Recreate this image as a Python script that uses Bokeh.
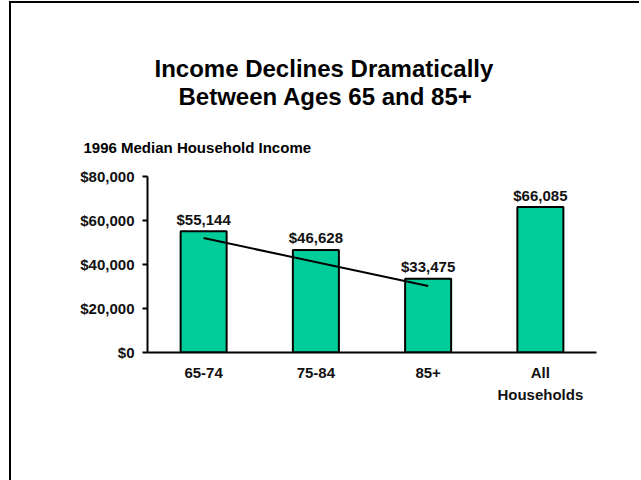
from bokeh.plotting import figure
from bokeh.models import (FactorRange, Range1d, NumeralTickFormatter, FixedTicker,
                          Title, ColumnDataSource)
from bokeh.core.properties import value
from bokeh.embed import file_html
from bokeh.resources import INLINE

# ---- data ----
categories = ["65-74", "75-84", "85+", "All\nHouseholds"]
incomes = [55144, 46628, 33475, 66085]
value_labels = ["$55,144", "$46,628", "$33,475", "$66,085"]
trend_x = ["65-74", "85+"]
trend_y = [52000, 30200]
y_ticks = [0, 20000, 40000, 60000, 80000]

title_lines = ["Income Declines Dramatically", "Between Ages 65 and 85+"]
subtitle = "1996 Median Household Income"

FONT = "Liberation Sans"
BAR_COLOR = "#00CC99"

W, H = 628, 477
FL, FR = 136, 585      # frame left/right in canvas px
FT, FB = 173, 349      # frame top/bottom in canvas px

p = figure(width=W, height=H, output_backend="svg", toolbar_location=None,
           x_range=FactorRange(*categories, range_padding=0),
           y_range=Range1d(0, 80000), title=None,
           min_border_left=FL, min_border_right=W - FR,
           min_border_top=FT, min_border_bottom=H - FB)
p.frame_width = FR - FL
p.frame_height = FB - FT
p.outline_line_color = None
p.background_fill_color = "white"
p.border_fill_color = "white"
p.xgrid.grid_line_color = None
p.ygrid.grid_line_color = None
p.styles = {"position": "relative", "top": "1px", "left": "9px",
            "border-top": "2px solid black", "border-left": "2px solid black"}

src = ColumnDataSource(dict(cat=categories, val=incomes, lab=value_labels))
p.vbar(x="cat", top="val", width=0.41, source=src, fill_color=BAR_COLOR,
       line_color="black", line_width=2)
p.line(x=trend_x, y=trend_y, line_color="black", line_width=2)
p.text(x="cat", y="val", text="lab", source=src, y_offset=-12,
       text_align="center", text_baseline="alphabetic",
       text_font=value(FONT), text_font_style="bold",
       text_font_size="15px", text_color="#111111")

# y axis
ya = p.yaxis[0]
ya.ticker = FixedTicker(ticks=y_ticks)
ya.formatter = NumeralTickFormatter(format="$0,0")
ya.minor_tick_line_color = None
ya.major_tick_in = 0
ya.major_tick_out = 5
ya.major_tick_line_width = 2
ya.axis_line_width = 2
ya.major_label_standoff = 8
ya.major_label_text_font = FONT
ya.major_label_text_font_style = "bold"
ya.major_label_text_font_size = "15px"
ya.major_label_text_color = "#111111"

# x axis
xa = p.xaxis[0]
xa.major_tick_line_color = None
xa.major_tick_out = 0
xa.major_tick_in = 0
xa.axis_line_width = 2
xa.major_label_standoff = 11
xa.major_label_text_font = FONT
xa.major_label_text_font_style = "bold"
xa.major_label_text_font_size = "15px"
xa.major_label_text_line_height = 1.3
xa.major_label_text_color = "#111111"

# titles: first added sits closest to the frame
p.add_layout(Title(text=subtitle, align="left", offset=72 - FL, standoff=41,
                   text_font=FONT, text_font_style="bold",
                   text_font_size="15px", text_color="black"), "above")
p.add_layout(Title(text=title_lines[1], align="left", offset=31,
                   standoff=14, text_font=FONT, text_font_style="bold",
                   text_font_size="24px", text_color="black"), "above")
p.add_layout(Title(text=title_lines[0], align="left", offset=7,
                   standoff=-16, text_font=FONT, text_font_style="bold",
                   text_font_size="24px", text_color="black"), "above")

open("out.html", "w").write(file_html(p, INLINE))
